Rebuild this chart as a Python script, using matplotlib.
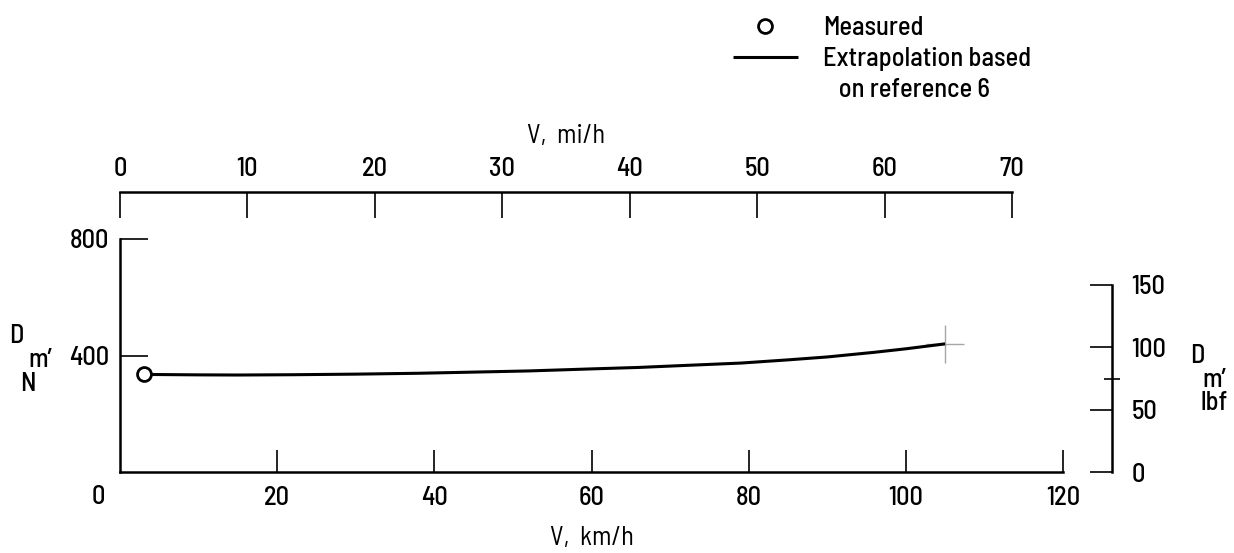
import matplotlib
matplotlib.use('Agg')
import matplotlib.pyplot as plt

plt.rcParams['font.family'] = ['Barlow Semi Condensed', 'DejaVu Sans']
plt.rcParams['font.size'] = 19
plt.rcParams['font.weight'] = 'medium'

# measured drag, V in km/h, D in N
measured_v = [3.0]
measured_d = [335]

# extrapolated curve (reference 6)
curve_v = [3, 10, 15, 22, 30, 38, 45, 52, 60, 66, 72, 79, 85, 90, 96, 100, 105]
curve_d = [335, 333.5, 333, 334, 336, 339, 343, 347, 354, 359, 366, 374, 385, 395, 411, 423, 440]

kmh_ticks = [20, 40, 60, 80, 100, 120]
mph_ticks = [0, 10, 20, 30, 40, 50, 60, 70]
n_ticks = [400, 800]
lbf_ticks = [0, 50, 100, 150]
lbf_minor = [75]

W, H = 1234, 553
fig = plt.figure(figsize=(W / 100, H / 100), dpi=100)

# main axes spans y = 472 px (0) up to 192 px (top mph spine)
ax = fig.add_axes([120 / W, (H - 472) / H, 943 / W, 280 / H])
ax.set_xlim(0, 120)
ax.set_ylim(0, 800 * 280 / 233)
ax.patch.set_visible(False)

for s in ['top', 'right']:
    ax.spines[s].set_visible(False)
ax.spines['left'].set_bounds(0, 800)
for s in ['left', 'bottom']:
    ax.spines[s].set_linewidth(1.8)

ax.set_xticks(kmh_ticks)
ax.set_yticks(n_ticks)
ax.tick_params(axis='x', direction='in', length=16, width=1.2, pad=10)
ax.tick_params(axis='y', direction='in', length=20, width=1.2, pad=8)
ax.annotate('0', xy=(0, 0), xycoords='data', xytext=(-22, -25),
            textcoords='offset pixels', ha='center', va='center')
ax.set_xlabel('V,  km/h')
ax.xaxis.set_label_coords(0.5, -(526 - 472) / 280)

# data
line, = ax.plot(curve_v, curve_d, color='black', lw=2.2, solid_capstyle='butt', zorder=3)
pts, = ax.plot(measured_v, measured_d, 'o', mfc='white', mec='black', ms=10, mew=2, zorder=4)
ax.plot(curve_v[-1], curve_d[-1], marker='+', ms=28, mew=1, color='0.65', zorder=2)

# top axis in mi/h (drawn scale: 70 mi/h sits at 1012 px)
ax_t = ax.twiny()
mph_max = 70 * 943 / (1012 - 120)
ax_t.set_xlim(0, mph_max)
for s in ['left', 'right', 'bottom']:
    ax_t.spines[s].set_visible(False)
ax_t.spines['top'].set_bounds(0, 70)
ax_t.spines['top'].set_linewidth(1.8)
ax_t.set_xticks(mph_ticks)
ax_t.tick_params(axis='x', direction='in', length=19, width=1.2, pad=8)
ax_t.set_xlabel('V,  mi/h')
ax_t.xaxis.set_label_coords(35 / mph_max, 1 + (192 - 143) / 280)

# right axis in lbf
ax_r = ax.twinx()
ax_r.set_ylim(0, 150 * 280 / 187)
for s in ['left', 'top', 'bottom']:
    ax_r.spines[s].set_visible(False)
ax_r.spines['right'].set_position(('axes', (1112 - 120) / 943))
ax_r.spines['right'].set_bounds(0, 150)
ax_r.spines['right'].set_linewidth(1.8)
ax_r.set_yticks(lbf_ticks)
ax_r.set_yticks(lbf_minor, minor=True)
ax_r.tick_params(axis='y', which='major', direction='in', length=16, width=1.2, pad=14)
ax_r.tick_params(axis='y', which='minor', direction='inout', length=11, width=1.2)

# y-axis labels
fig.text(16 / W, 1 - 336 / H, 'D', ha='center', va='center')
fig.text(40 / W, 1 - 360 / H, 'm\u2019', ha='center', va='center')
fig.text(28 / W, 1 - 384 / H, 'N', ha='center', va='center')
fig.text(1197 / W, 1 - 356 / H, 'D', ha='center', va='center')
fig.text(1214 / W, 1 - 380 / H, 'm\u2019', ha='center', va='center')
fig.text(1214 / W, 1 - 403 / H, 'lbf', ha='center', va='center')

# legend
blank, = ax.plot([], [], ls='none')
fig.legend([pts, line, blank], ['Measured', 'Extrapolation based', '   on reference 6'],
           loc='upper left', bbox_to_anchor=(733 / W, 1 - 16 / H), frameon=False,
           borderpad=0, borderaxespad=0, handlelength=2.45, handletextpad=0.95,
           labelspacing=0.27, numpoints=1)

fig.savefig('out.png', dpi=100)
